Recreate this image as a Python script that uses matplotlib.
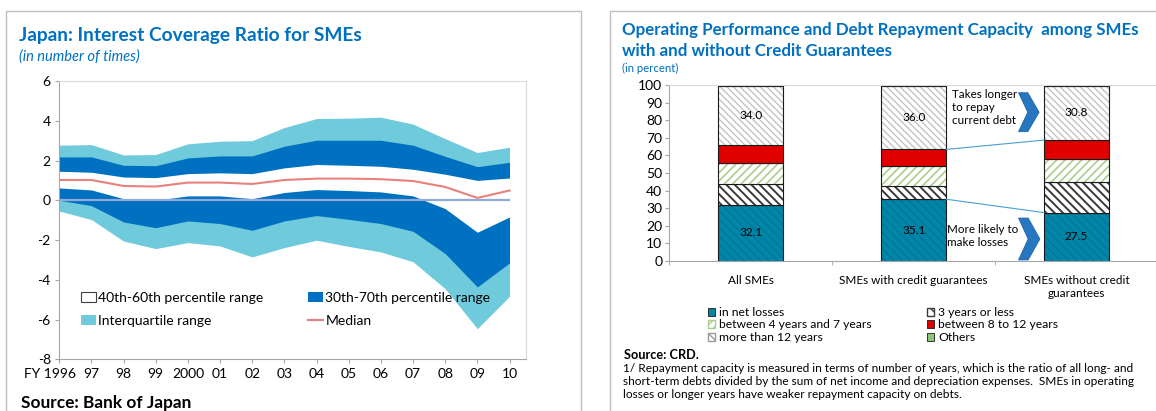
import numpy as np
import matplotlib.pyplot as plt
from matplotlib.patches import Patch, Polygon, Rectangle
from matplotlib.lines import Line2D
import matplotlib.transforms as mtrans

plt.rcParams['font.family'] = ['Lato', 'DejaVu Sans']
plt.rcParams['axes.unicode_minus'] = False

# ---- left chart: interest coverage ratio (times)
years = list(range(1996, 2011))
year_labels = ['FY 1996', '97', '98', '99', '2000', '01', '02', '03', '04',
               '05', '06', '07', '08', '09', '10']
iqr_hi = [2.77, 2.80, 2.28, 2.30, 2.84, 2.97, 3.00, 3.66, 4.11, 4.13, 4.18, 3.83, 3.10, 2.40, 2.67]
p70 = [2.18, 2.18, 1.76, 1.74, 2.13, 2.23, 2.23, 2.72, 3.02, 3.02, 3.02, 2.77, 2.21, 1.69, 1.91]
p60 = [1.46, 1.41, 1.17, 1.14, 1.34, 1.38, 1.34, 1.63, 1.80, 1.76, 1.71, 1.56, 1.31, 1.00, 1.12]
median = [1.02, 1.02, 0.72, 0.69, 0.89, 0.89, 0.82, 1.02, 1.09, 1.09, 1.06, 0.97, 0.67, 0.12, 0.49]
p40 = [0.62, 0.52, 0.08, 0.00, 0.22, 0.22, 0.08, 0.39, 0.54, 0.49, 0.42, 0.22, -0.42, -1.61, -0.84]
p30 = [0.00, -0.27, -1.09, -1.38, -1.04, -1.17, -1.51, -1.04, -0.77, -0.96, -1.17, -1.56, -2.68, -4.36, -3.15]
iqr_lo = [-0.54, -0.97, -2.05, -2.43, -2.13, -2.30, -2.85, -2.38, -2.01, -2.32, -2.60, -3.09, -4.45, -6.46, -4.83]

# ---- right chart: repayment capacity (percent)
groups = ['All SMEs', 'SMEs with credit guarantees', 'SMEs without credit\nguarantees']
net_losses = [32.1, 35.1, 27.5]
yrs_3_or_less = [11.5, 7.5, 17.2]
yrs_4_to_7 = [11.9, 11.6, 13.4]
yrs_8_to_12 = [10.2, 9.2, 10.6]
more_than_12 = [34.0, 36.0, 30.8]
others = [0.3, 0.6, 0.5]

BLUE = '#0070c0'
LIGHT = '#6fcadc'
GRID = '#bfbfbf'

fig = plt.figure(figsize=(11.56, 4.11), dpi=100)
W, H = 1156, 411

def fx(px):
    return px / W

def fy(py):
    return 1 - py / H

# panel frames
fig.add_artist(Rectangle((fx(6), -0.05), fx(580.7) - fx(6), fy(11) + 0.05, fill=False,
                         edgecolor=GRID, lw=1, transform=fig.transFigure))
fig.add_artist(Rectangle((fx(610), -0.05), 0.6, fy(11) + 0.05, fill=False,
                         edgecolor=GRID, lw=1, transform=fig.transFigure))

# ================= left panel
ax = fig.add_axes([fx(59.2), fy(359.3), fx(525.6) - fx(59.2), fy(81) - fy(359.3)])
ax.fill_between(years, iqr_lo, iqr_hi, color=LIGHT, lw=0)
ax.fill_between(years, p30, p70, color=BLUE, lw=0)
ax.fill_between(years, p40, p60, color='white', lw=0)
ax.hlines(0, years[0], years[-1], color='#8eaadb', lw=1.6)
ax.plot(years, median, color='#e8817c', lw=1.5)
ax.set_xlim(1996, 2010.5)
ax.set_ylim(-8, 6)
ax.set_yticks(range(-8, 7, 2))
ax.set_yticklabels([str(v) for v in range(-8, 7, 2)])
ax.set_xticks(years)
ax.set_xticklabels([''] + year_labels[1:])
ax.tick_params(labelsize=10, length=3, color='#a6a6a6', pad=3)
# first label sits a little left of its tick in the original
pad_px = (3 + 3) * 100 / 72
ax.text(years[0] - 0.28, -pad_px / 278.3, year_labels[0], fontsize=10, ha='center', va='top',
        transform=mtrans.blended_transform_factory(ax.transData, ax.transAxes))
for s in ax.spines.values():
    s.set_color('#d9d9d9')
ax.spines['left'].set_color('#a6a6a6')
ax.spines['bottom'].set_color('#a6a6a6')

lh = [Patch(facecolor='white', edgecolor='#404040', lw=0.8),
      Patch(facecolor=LIGHT),
      Patch(facecolor=BLUE),
      Line2D([0], [0], color='#e8817c', lw=1.5)]
ll = ['40th-60th percentile range', 'Interquartile range',
      '30th-70th percentile range', 'Median']
ax.legend(lh, ll, ncol=2, loc='upper left', bbox_to_anchor=(0.032, 0.266), frameon=False,
          fontsize=10, handlelength=1.1, handleheight=0.75, handletextpad=0.15,
          columnspacing=3.2, labelspacing=0.75, borderpad=0)

fig.text(fx(19), fy(35), 'Japan: Interest Coverage Ratio for SMEs', color=BLUE,
         fontsize=13.8, fontweight='bold', va='center', ha='left')
fig.text(fx(19), fy(57), '(in number of times)', color=BLUE, fontsize=10.5,
         style='italic', va='center', ha='left')
fig.text(fx(21), fy(403), 'Source: Bank of Japan', fontsize=12.4, fontweight='bold',
         va='center', ha='left')

# ================= right panel
bx = fig.add_axes([fx(669.3), fy(261), fx(1158) - fx(669.3), fy(85) - fy(261)])
x = np.arange(len(groups))
bw = 0.4

segments = [
    (net_losses, '#0086a8', '\\\\\\\\', '#007697', 1.0),
    (yrs_3_or_less, 'white', '\\\\\\\\', '#3a3a3a', 1.4),
    (yrs_4_to_7, 'white', '////', '#a9d08e', 1.2),
    (yrs_8_to_12, '#e00000', None, None, 1.0),
    (more_than_12, 'white', '\\\\\\\\\\', '#c4c4c4', 1.0),
    (others, '#8fc47c', None, None, 1.0),
]
bottom = np.zeros(len(groups))
for vals, face, hatch, hcol, hlw in segments:
    with plt.rc_context({'hatch.linewidth': hlw}):
        if hatch:
            bx.bar(x, vals, bw, bottom=bottom, color=face, edgecolor=hcol, hatch=hatch, lw=0)
        else:
            bx.bar(x, vals, bw, bottom=bottom, color=face, lw=0)
    bx.bar(x, vals, bw, bottom=bottom, fill=False, edgecolor='#1a1a1a', lw=0.8)
    bottom = bottom + np.array(vals)

for i in range(len(groups)):
    bx.text(x[i], net_losses[i] / 2, f'{net_losses[i]:.1f}', ha='center', va='center', fontsize=8.5)
    base = net_losses[i] + yrs_3_or_less[i] + yrs_4_to_7[i] + yrs_8_to_12[i]
    bx.text(x[i], base + more_than_12[i] / 2, f'{more_than_12[i]:.1f}', ha='center',
            va='center', fontsize=8.5)

# series lines between second and third bars
top_red = [net_losses[i] + yrs_3_or_less[i] + yrs_4_to_7[i] + yrs_8_to_12[i] for i in range(3)]
bx.plot([x[1] + bw / 2, x[2] - bw / 2], [top_red[1], top_red[2]], color='#4a9fd5', lw=0.8)
bx.plot([x[1] + bw / 2, x[2] - bw / 2], [net_losses[1], net_losses[2]], color='#4a9fd5', lw=0.8)

def chevron(x0, x1, y0, y1):
    w = x1 - x0
    pts = [(x0, y1), (x0 + 0.45 * w, y1), (x1, (y0 + y1) / 2), (x0 + 0.45 * w, y0),
           (x0, y0), (x0 + 0.45 * w, (y0 + y1) / 2)]
    bx.add_patch(Polygon(pts, closed=True, facecolor='#2677bf', edgecolor='#1d66a8', lw=0.6))

chevron(1.644, 1.77, 73.5, 95.6)
chevron(1.644, 1.775, 0.6, 24.4)
bx.text(1.237, 97.5, 'Takes longer\nto repay\ncurrent debt', fontsize=8.4, va='top', ha='left',
        linespacing=1.2)
bx.text(1.207, 14, 'More likely to\nmake losses', fontsize=8.4, va='center', ha='left',
        linespacing=1.2)

bx.set_xlim(-0.5, 2.5)
bx.set_ylim(0, 100)
bx.set_yticks(range(0, 101, 10))
bx.set_xticks(x)
bx.set_xticklabels(groups, fontsize=8.5)
bx.set_xticks([-0.5, 0.5, 1.5, 2.5], minor=True)
bx.tick_params(axis='x', which='major', length=0, pad=10)
bx.tick_params(axis='x', which='minor', length=3, color='#a6a6a6')
bx.tick_params(axis='y', labelsize=10, length=3, color='#a6a6a6', pad=2)
for s in bx.spines.values():
    s.set_color('#d9d9d9')
bx.spines['left'].set_color('#a6a6a6')
bx.spines['bottom'].set_color('#a6a6a6')

rh = [Patch(facecolor='#0086a8', edgecolor='#1a1a1a', lw=0.6),
      Patch(facecolor='white', edgecolor='#a9d08e', hatch='////'),
      Patch(facecolor='white', edgecolor='#9a9a9a', hatch='\\\\\\\\'),
      Patch(facecolor='white', edgecolor='#3a3a3a', hatch='\\\\\\'),
      Patch(facecolor='#e00000', edgecolor='#1a1a1a', lw=0.6),
      Patch(facecolor='#8fc47c', edgecolor='#1a1a1a', lw=0.6)]
rl = ['in net losses', 'between 4 years and 7 years', 'more than 12 years',
      '3 years or less', 'between 8 to 12 years', 'Others']
fig.legend(rh, rl, ncol=2, loc='upper left', bbox_to_anchor=(fx(702), fy(301)), frameon=False,
           fontsize=8.7, handlelength=0.6, handleheight=0.6, handletextpad=0.3,
           columnspacing=4.6, labelspacing=0.12, borderpad=0)

fig.text(fx(622), fy(30), 'Operating Performance and Debt Repayment Capacity  among SMEs',
         color=BLUE, fontsize=12.2, fontweight='bold', va='center', ha='left')
fig.text(fx(622), fy(50.7), 'with and without Credit Guarantees',
         color=BLUE, fontsize=12.2, fontweight='bold', va='center', ha='left')
fig.text(fx(622), fy(68), '(in percent)', color=BLUE, fontsize=8.2, va='center', ha='left')
fig.text(fx(624), fy(355), 'Source: CRD.', fontsize=9.2, fontweight='bold', va='center', ha='left')
notes = ['1/ Repayment capacity is measured in terms of number of years, which is the ratio of all long- and',
         'short-term debts divided by the sum of net income and depreciation expenses.  SMEs in operating',
         'losses or longer years have weaker repayment capacity on debts.']
for k, line in enumerate(notes):
    fig.text(fx(623), fy(368.5 + 13.2 * k), line, fontsize=8.6, va='center', ha='left')

fig.savefig('out.png', dpi=100)
